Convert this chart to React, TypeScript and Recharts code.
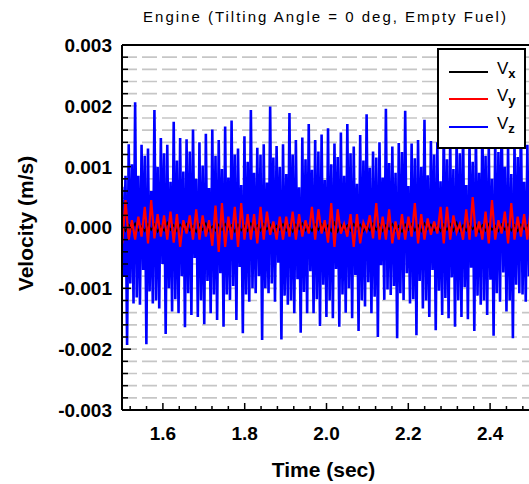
import {
  CartesianGrid,
  Legend,
  Line,
  LineChart,
  ReferenceLine,
  XAxis,
  YAxis,
} from 'recharts'

// sampling of the record (sec): Vz is drawn on a finer grid than Vx / Vy
const sampleStart = 1.50066
const vzStep = 0.0039303
const vxyStep = 0.0078606

// velocities in 1e-3 m/s
const vx = [
  0.04, -0.06, 0.05, -0.03, 0.07, -0.05, 0.02, -0.06, 0.06, -0.04,
  0.05, -0.07, 0.03, -0.05, 0.08, -0.04, 0.04, -0.06, 0.05, -0.03,
  0.06, -0.05, 0.03, -0.07, 0.05, -0.04, 0.07, -0.06, 0.02, -0.05,
  0.05, -0.04, 0.06, -0.03, 0.04, -0.07, 0.05, -0.05, 0.03, -0.06,
  0.07, -0.04, 0.04, -0.05, 0.06, -0.03, 0.05, -0.06, 0.03, -0.04,
  0.06, -0.05, 0.04, -0.07, 0.05, -0.03, 0.07, -0.05, 0.03, -0.06,
  0.05, -0.04, 0.06, -0.05, 0.04, -0.06, 0.08, -0.07, 0.05, -0.04,
  0.04, -0.05, 0.06, -0.03, 0.05, -0.06, 0.03, -0.05, 0.07, -0.04,
  0.05, -0.06, 0.04, -0.03, 0.06, -0.05, 0.03, -0.07, 0.05, -0.04,
  0.06, -0.05, 0.04, -0.06, 0.07, -0.03, 0.05, -0.05, 0.03, -0.06,
  0.05, -0.04, 0.06, -0.05, 0.08, -0.06, 0.04, -0.05, 0.06, -0.03,
  0.05, -0.07, 0.04, -0.05, 0.06, -0.04, 0.03, -0.06, 0.05, -0.04,
  0.06, -0.05, 0.04, -0.06, 0.05, -0.03, 0.04, -0.05,
]

const vy = [
  -0.26, 0.45, -0.2, 0.12, -0.2, 0.18, -0.15, 0.34, -0.26, 0.45,
  -0.18, 0.22, -0.15, 0.2, -0.2, 0.26, -0.25, 0.22, -0.32, 0.12,
  -0.1, 0.2, -0.2, 0.3, -0.2, 0.2, -0.15, 0.12, -0.3, 0.36,
  -0.4, 0.4, -0.32, 0.18, -0.2, 0.34, -0.32, 0.4, -0.2, 0.22,
  -0.2, 0.22, -0.26, 0.34, -0.2, 0.26, -0.12, 0.1, -0.2, 0.18,
  -0.2, 0.18, -0.15, 0.26, -0.2, 0.22, -0.15, 0.12, -0.1, 0.34,
  -0.2, 0.3, -0.1, 0.12, -0.25, 0.4, -0.32, 0.3, -0.1, 0.06,
  -0.15, 0.22, -0.32, 0.22, -0.26, 0.08, -0.05, 0.2, -0.18, 0.4,
  -0.2, 0.18, -0.2, 0.3, -0.26, 0.1, -0.2, 0.22, -0.2, 0.18,
  -0.15, 0.4, -0.26, 0.22, -0.2, 0.15, -0.12, 0.1, -0.1, 0.34,
  -0.26, 0.34, -0.2, 0.2, -0.08, 0.06, -0.2, 0.3, -0.2, 0.5,
  -0.15, 0.1, -0.2, 0.26, -0.26, 0.45, -0.2, 0.12, -0.1, 0.26,
  -0.26, 0.4, -0.2, 0.18, -0.15, 0.22, -0.2, 0.3,
]

// each group of four: peak, fall, rebound, trough
const vz = [
  0.67, -0.8, 0.85, -1.93,
  1.37, -0.92, 1.04, -1.25, 2.06, -1.15, 0.85, -1.27, 1.36, -0.7, 1.18, -1.92,
  1.3, -1.05, 0.6, -1.25, 1.93, -1.2, 1.0, -1.33, 1.47, -0.6, 1.22, -1.75,
  1.36, -1.0, 0.75, -1.38, 1.74, -1.18, 1.1, -1.41, 1.47, -0.8, 0.92, -1.64,
  1.45, -1.08, 1.25, -1.44, 1.61, -0.5, 0.8, -1.47, 1.4, -1.2, 1.02, -1.59,
  1.54, -0.88, 0.65, -1.41, 1.61, -1.1, 1.18, -1.52, 1.44, -0.75, 0.96, -1.63,
  1.66, -1.1, 0.82, -1.19, 1.76, -0.96, 1.2, -1.52, 1.3, -0.65, 0.7, -1.74,
  1.5, -1.1, 1.08, -1.22, 1.93, -1.0, 0.9, -1.08, 1.31, -0.8, 1.2, -1.85,
  1.37, -1.0, 0.74, -1.08, 1.99, -0.92, 1.15, -1.22, 1.34, -0.58, 1.0, -1.84,
  1.37, -1.12, 0.88, -1.27, 1.88, -1.2, 1.2, -1.41, 1.44, -0.85, 0.66, -1.73,
  1.48, -1.06, 1.12, -1.41, 1.7, -0.72, 0.95, -1.41, 1.44, -1.18, 1.25, -1.62,
  1.53, -0.94, 0.78, -1.47, 1.63, -1.2, 1.04, -1.49, 1.38, -0.68, 1.16, -1.63,
  1.56, -1.1, 0.85, -1.4, 1.7, -1.0, 1.22, -1.49, 1.33, -0.78, 0.72, -1.7,
  1.52, -1.2, 1.1, -1.3, 1.86, -0.9, 0.98, -1.41, 1.25, -1.14, 1.15, -1.8,
  1.4, -0.62, 0.82, -1.19, 1.95, -1.02, 1.06, -1.11, 1.33, -0.96, 0.9, -1.82,
  1.39, -1.08, 1.24, -1.19, 1.92, -0.75, 0.68, -1.25, 1.38, -1.18, 1.14, -1.77,
  1.44, -0.88, 1.0, -1.33, 1.77, -1.2, 0.86, -1.47, 1.42, -0.7, 1.2, -1.69,
  1.4, -1.04, 0.76, -1.44, 1.7, -1.16, 1.12, -1.49, 1.45, -0.82, 0.96, -1.63,
  1.5, -1.2, 1.22, -1.47, 1.65, -0.98, 0.7, -1.51, 1.4, -0.66, 1.08, -1.7,
  1.55, -1.12, 0.9, -1.27, 1.8, -1.2, 1.18, -1.44, 1.35, -0.86, 0.8, -1.78,
  1.45, -1.08, 1.24, -1.22, 1.9, -0.74, 1.0, -1.38, 1.35, -1.2, 0.88, -1.82,
  1.4, -0.94, 1.16, -1.08, 1.85, -1.1, 0.75, -1.22, 1.36, -0.8, 1.1, -1.7,
]

const xTicks = [
  1.52, 1.56, 1.6, 1.64, 1.68, 1.72, 1.76, 1.8, 1.84, 1.88, 1.92, 1.96, 2.0,
  2.04, 2.08, 2.12, 2.16, 2.2, 2.24, 2.28, 2.32, 2.36, 2.4, 2.44, 2.48,
]
const xMajor = [1.6, 1.8, 2.0, 2.2, 2.4]

const yTicks = [
  -0.003, -0.0028, -0.0026, -0.0024, -0.0022, -0.002, -0.0018, -0.0016,
  -0.0014, -0.0012, -0.001, -0.0008, -0.0006, -0.0004, -0.0002, 0, 0.0002,
  0.0004, 0.0006, 0.0008, 0.001, 0.0012, 0.0014, 0.0016, 0.0018, 0.002,
  0.0022, 0.0024, 0.0026, 0.0028, 0.003,
]
const yMajor = [-0.003, -0.002, -0.001, 0, 0.001, 0.002, 0.003]

const toRows = (values: number[], step: number, key: string) =>
  values.map((v, i) => ({ t: sampleStart + i * step, [key]: v * 1e-3 }))

// drawing order: Vz underneath, Vy on top
const series = [
  { key: 'vz', sub: 'z', color: '#0000ff', width: 2.6, rows: toRows(vz, vzStep, 'vz') },
  { key: 'vx', sub: 'x', color: '#000000', width: 1.5, rows: toRows(vx, vxyStep, 'vx') },
  { key: 'vy', sub: 'y', color: '#ff0000', width: 2.2, rows: toRows(vy, vxyStep, 'vy') },
]
const legendOrder = ['vx', 'vy', 'vz']

const FONT = 'Arial, "Liberation Sans", sans-serif'

const isMajor = (v: number, majors: number[]) =>
  majors.some((m) => Math.abs(m - v) < 1e-9)

const XTick = ({ x, y, payload }: any) => {
  const major = isMajor(payload.value, xMajor)
  return (
    <g>
      <line x1={x} x2={x} y1={y} y2={y - (major ? 7 : 4)} stroke="#000" strokeWidth={1.5} />
      {major && (
        <text x={x} y={y + 30} textAnchor="middle" fontSize={19} fontWeight="bold" fontFamily={FONT} fill="#000">
          {Number(payload.value).toFixed(1)}
        </text>
      )}
    </g>
  )
}

const YTick = ({ x, y, payload }: any) => {
  const major = isMajor(payload.value, yMajor)
  return (
    <g>
      <line x1={x} x2={x + (major ? 9 : 6)} y1={y} y2={y} stroke="#000" strokeWidth={1.5} />
      {major && (
        <text x={x - 10} y={y} dy="0.36em" textAnchor="end" fontSize={19} fontWeight="bold" fontFamily={FONT} fill="#000">
          {Number(payload.value).toFixed(3)}
        </text>
      )}
    </g>
  )
}

const TimeLabel = ({ viewBox }: any) => {
  const cx = viewBox.x + viewBox.width / 2 - 3
  return (
    <text x={cx} y={viewBox.y + 67} textAnchor="middle" fontSize={21} fontWeight="bold" fontFamily={FONT} fill="#000">
      Time (sec)
    </text>
  )
}

const VelocityLabel = ({ viewBox }: any) => {
  const cx = viewBox.x + 25
  const cy = viewBox.y + viewBox.height / 2 - 4
  return (
    <text
      x={cx}
      y={cy}
      transform={`rotate(-90 ${cx} ${cy})`}
      textAnchor="middle"
      dominantBaseline="central"
      fontSize={21}
      fontWeight="bold"
      fontFamily={FONT}
      fill="#000"
    >
      Velocity (m/s)
    </text>
  )
}

const LegendBox = () => (
  <div
    style={{
      position: 'relative',
      width: 89,
      height: 101,
      boxSizing: 'border-box',
      border: '2px solid #000',
      background: '#fff',
      fontFamily: FONT,
    }}
  >
    {legendOrder.map((key, i) => {
      const s = series.find((item) => item.key === key)!
      const c = [22, 49, 77][i]
      return (
        <div key={s.key}>
          <div style={{ position: 'absolute', left: 10, top: c - 1, width: 39, height: 2, background: s.color }} />
          <div style={{ position: 'absolute', left: 58, top: c - 12, fontSize: 17, lineHeight: '18px', color: '#000', whiteSpace: 'nowrap' }}>
            V
            <span style={{ fontSize: 13, fontWeight: 'bold', position: 'relative', top: 4 }}>{s.sub}</span>
          </div>
        </div>
      )
    })}
  </div>
)

export default function App() {
  return (
    <div style={{ position: 'absolute', left: 0, top: 0, width: 529, height: 484, overflow: 'hidden', background: '#fff', fontFamily: FONT }}>
      <div
        style={{
          position: 'absolute',
          left: 122,
          top: 9,
          width: 407,
          textAlign: 'center',
          fontSize: 15,
          lineHeight: '15px',
          letterSpacing: 2,
          color: '#000',
          whiteSpace: 'nowrap',
        }}
      >
        Engine (Tilting Angle = 0 deg, Empty Fuel)
      </div>
      <LineChart width={531} height={484} margin={{ top: 45, right: 0, bottom: 0, left: 0 }}>
        <CartesianGrid vertical={false} stroke="#c6c6c6" strokeWidth={1.6} strokeDasharray="15 5" />
        <XAxis
          dataKey="t"
          type="number"
          domain={[1.5, 2.5]}
          allowDataOverflow
          ticks={xTicks}
          interval={0}
          height={74}
          tickSize={0}
          tickMargin={0}
          tick={<XTick />}
          axisLine={{ stroke: '#000', strokeWidth: 2 }}
          label={TimeLabel}
        />
        <YAxis
          type="number"
          domain={[-0.003, 0.003]}
          ticks={yTicks}
          interval={0}
          width={122}
          tickSize={0}
          tickMargin={0}
          tick={<YTick />}
          axisLine={{ stroke: '#000', strokeWidth: 2 }}
          label={VelocityLabel}
        />
        <ReferenceLine y={0.003} stroke="#000" strokeWidth={2} />
        {series.map((s) => (
          <Line
            key={s.key}
            data={s.rows}
            dataKey={s.key}
            type="linear"
            stroke={s.color}
            strokeWidth={s.width}
            dot={false}
            activeDot={false}
            isAnimationActive={false}
          />
        ))}
        <Legend
          layout="vertical"
          align="center"
          verticalAlign="middle"
          wrapperStyle={{ left: 437, top: 48, width: 89, height: 101 }}
          content={() => <LegendBox />}
        />
      </LineChart>
    </div>
  )
}
